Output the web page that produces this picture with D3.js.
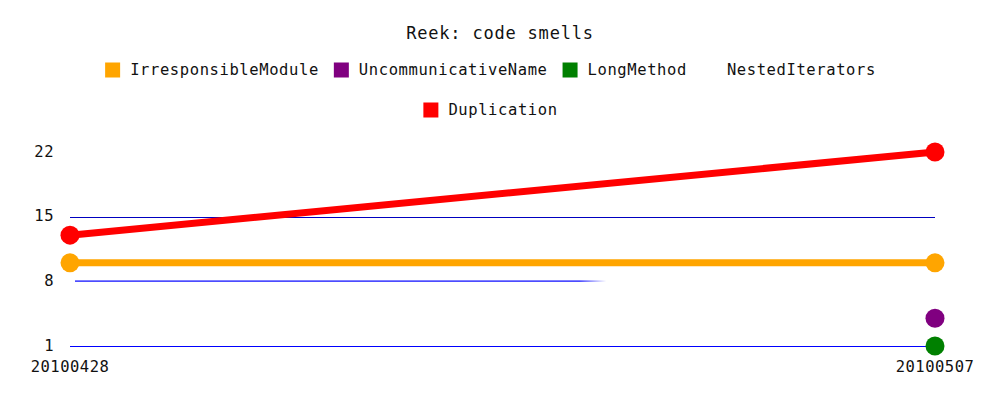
<!DOCTYPE html>
<html><head><meta charset="utf-8">
<script src="https://cdn.jsdelivr.net/npm/d3@7"></script>
<style>body{margin:0;background:#fff}svg{display:block}text{font-family:"DejaVu Sans Mono",monospace;fill:#111}</style>
</head><body><svg id="c" width="1000" height="400"></svg>
<script>
const title = "Reek: code smells";
const dates = ["20100428", "20100507"];
const seriesNames = ["IrresponsibleModule", "UncommunicativeName", "LongMethod", "NestedIterators", "Duplication"];
const seriesColors = ["#ffa500", "#800080", "#008000", "#ffffff", "#ff0000"];
const irresponsibleModule = [10, 10];
const uncommunicativeName = [null, 4];
const longMethod = [null, 1];
const nestedIterators = [null, null];
const duplication = [13, 22];
const yTicks = [1, 8, 15, 22];

const seriesValues = [irresponsibleModule, uncommunicativeName, longMethod, nestedIterators, duplication];
const svg = d3.select("#c");
const x = d3.scalePoint().domain(dates).range([70, 935]);
const y = d3.scaleLinear().domain([1, 22]).range([346, 152]);

svg.append("text").attr("x", 500).attr("y", 34).attr("text-anchor", "middle")
  .attr("dominant-baseline", "middle").style("font-size", "17px").style("letter-spacing", "0.8px").text(title);

// legend
const fs = 15.5, ls = "0.6px";
const meas = svg.append("text").style("font-size", fs + "px").style("letter-spacing", ls);
const items = seriesNames.map((n, i) => { meas.text(n); return {n, c: seriesColors[i], w: 15 + 10 + meas.node().getComputedTextLength() + 15}; });
meas.remove();
const rows = [[]]; let acc = 0;
items.forEach(it => { if (acc + it.w > 850) { rows.push([]); acc = 0; } rows[rows.length - 1].push(it); acc += it.w; });
rows.forEach((row, ri) => {
  const tot = d3.sum(row, d => d.w);
  let cx = (1000 - tot) / 2 - 2;
  const cy = 70 + ri * 40;
  row.forEach(it => {
    const g = svg.append("g");
    g.append("rect").attr("x", cx).attr("y", cy - 7.5).attr("width", 15).attr("height", 15).attr("fill", it.c);
    g.append("text").attr("x", cx + 25).attr("y", cy).attr("dominant-baseline", "middle").style("font-size", fs + "px").style("letter-spacing", ls).text(it.n);
    cx += it.w;
  });
});

// gridlines
const defs = svg.append("defs");
const grad = defs.append("linearGradient").attr("id", "fade").attr("gradientUnits", "userSpaceOnUse")
  .attr("x1", x(dates[0])).attr("x2", x(dates[0]) + (x(dates[1]) - x(dates[0])) * 0.62).attr("y1", 0).attr("y2", 0);
grad.append("stop").attr("offset", "0.95").attr("stop-color", "#0000ff").attr("stop-opacity", 1);
grad.append("stop").attr("offset", "1").attr("stop-color", "#0000ff").attr("stop-opacity", 0);
yTicks.forEach(t => {
  if (t === 22) return;
  const x0 = x(dates[0]), x1 = x(dates[1]);
  if (t === 8) {
    svg.append("rect").attr("x", x0 + 5).attr("y", Math.round(y(t)) - 0.5).attr("width", (x1 - x0) * 0.62 - 5).attr("height", 1.2).attr("fill", "url(#fade)");
  } else {
    svg.append("line").attr("x1", x0).attr("x2", x1).attr("y1", Math.round(y(t)) + 0.5).attr("y2", Math.round(y(t)) + 0.5)
      .attr("stroke", t === 15 ? "#0000c0" : "#0000ff").attr("stroke-width", 1);
  }
});

// y labels
yTicks.forEach(t => {
  svg.append("text").attr("x", 54).attr("y", y(t)).attr("text-anchor", "end").attr("dominant-baseline", "middle")
    .style("font-size", "15.5px").style("letter-spacing", "0.5px").text(t);
});
// x labels
dates.forEach(d => {
  svg.append("text").attr("x", x(d)).attr("y", 367).attr("text-anchor", "middle").attr("dominant-baseline", "middle")
    .style("font-size", "15.5px").style("letter-spacing", "0.5px").text(d);
});

// series
const line = d3.line().defined(d => d.v != null).x(d => x(d.d)).y(d => y(d.v));
seriesValues.forEach((vals, i) => {
  const pts = vals.map((v, j) => ({d: dates[j], v}));
  if (seriesColors[i] === "#ffffff") return;
  svg.append("path").datum(pts).attr("d", line).attr("fill", "none").attr("stroke", seriesColors[i]).attr("stroke-width", 7);
  svg.selectAll(null).data(pts.filter(p => p.v != null)).enter().append("circle")
    .attr("cx", p => x(p.d)).attr("cy", p => y(p.v)).attr("r", 9.5).attr("fill", seriesColors[i]);
});
</script></body></html>
